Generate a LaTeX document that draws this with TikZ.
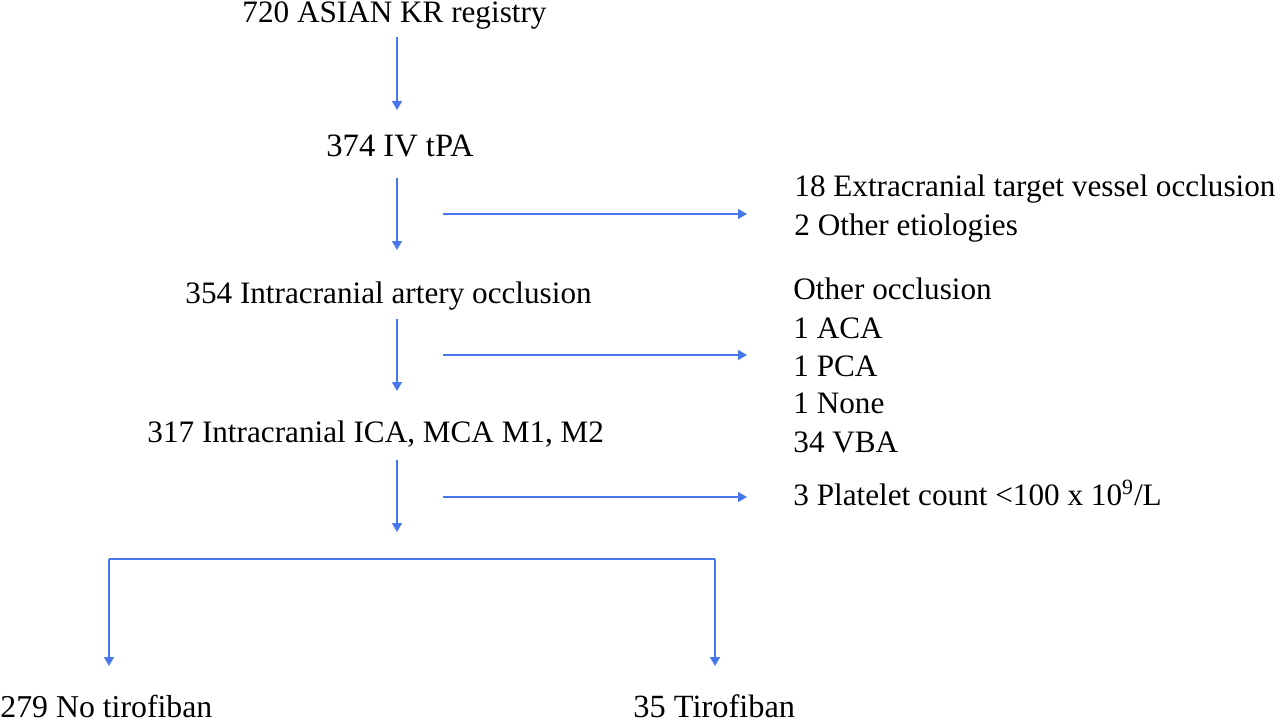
\documentclass[tikz,border=0pt]{standalone}
\usepackage{fontspec}
\setmainfont{Liberation Serif}
\usetikzlibrary{arrows.meta}
\definecolor{flowblue}{RGB}{70,120,235}
\begin{document}
\begin{tikzpicture}[x=0.5pt,y=-0.5pt,
  txt/.style={anchor=base west,inner sep=0pt,font=\fontsize{15.6pt}{19pt}\selectfont},
  big/.style={font=\fontsize{16.3pt}{19pt}\selectfont},
  arr/.style={draw=flowblue,line width=0.65pt,-{Triangle[width=5pt,length=4.5pt]}},
  ln/.style={draw=flowblue,line width=0.65pt}]
\useasboundingbox (0,0) rectangle (1280,722);
% main column
\node[txt] (reg) at (242,23) {720 ASIAN KR registry};
\node[txt,big] (tpa) at (326,156) {374 IV tPA};
\node[txt] (ica) at (185,303) {354 Intracranial artery occlusion};
\node[txt] (m12) at (147,442) {317 Intracranial ICA, MCA M1, M2};
% exclusions
\node[txt] (ex1) at (794,197) {18 Extracranial target vessel occlusion};
\node[txt] (ex2) at (794,235) {2 Other etiologies};
\node[txt] (oo) at (793,299) {Other occlusion};
\node[txt] (aca) at (793,338) {1 ACA};
\node[txt] (pca) at (793,376) {1 PCA};
\node[txt] (none) at (793,413) {1 None};
\node[txt] (vba) at (793,452) {34 VBA};
\node[txt] (plt) at (793,505) {3 Platelet count <100 x 10\textsuperscript{9}/L};
% groups
\node[txt,font=\fontsize{15.9pt}{19pt}\selectfont] (notiro) at (0,717) {279 No tirofiban};
\node[txt,font=\fontsize{16.2pt}{19pt}\selectfont] (tiro) at (633,717) {35 Tirofiban};
% connector coordinates
\coordinate (v1a) at (397,37);  \coordinate (v1b) at (397,110);
\coordinate (v2a) at (397,178); \coordinate (v2b) at (397,250);
\coordinate (v3a) at (397,319); \coordinate (v3b) at (397,391);
\coordinate (v4a) at (397,460); \coordinate (v4b) at (397,532);
\coordinate (h1a) at (443,214); \coordinate (h1b) at (747,214);
\coordinate (h2a) at (443,355); \coordinate (h2b) at (747,355);
\coordinate (h3a) at (443,497); \coordinate (h3b) at (747,497);
\coordinate (brL) at (109,559); \coordinate (brR) at (715,559);
\coordinate (tipL) at (109,666); \coordinate (tipR) at (715,666);
% connectors
\draw[arr] (v1a) -- (v1b);
\draw[arr] (v2a) -- (v2b);
\draw[arr] (v3a) -- (v3b);
\draw[arr] (v4a) -- (v4b);
\draw[arr] (h1a) -- (h1b);
\draw[arr] (h2a) -- (h2b);
\draw[arr] (h3a) -- (h3b);
\draw[ln] (brL) -- (brR);
\draw[arr] (brL) -- (tipL);
\draw[arr] (brR) -- (tipR);
\end{tikzpicture}
\end{document}
